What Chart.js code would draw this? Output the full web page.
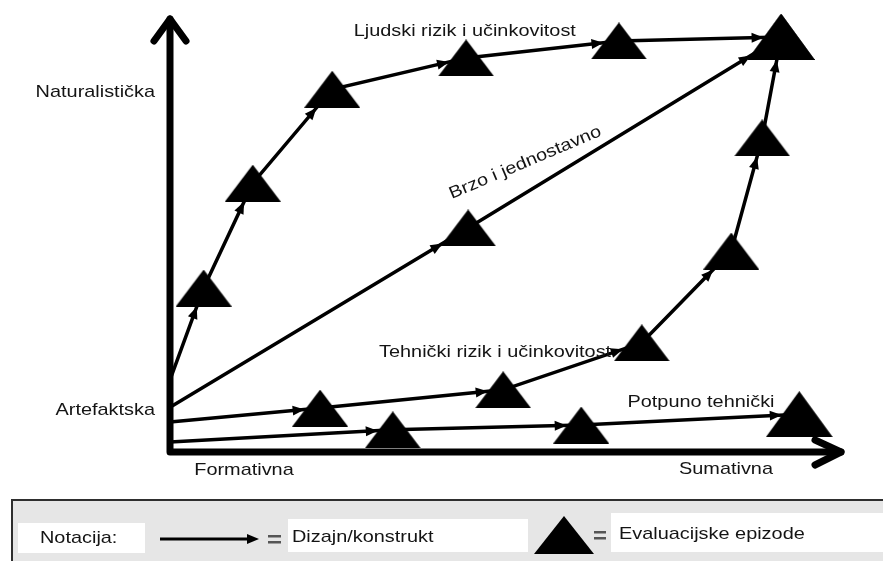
<!DOCTYPE html>
<html>
<head>
<meta charset="utf-8">
<script src="https://cdn.jsdelivr.net/npm/chart.js@4.4.1/dist/chart.umd.min.js"></script>
<style>
  html, body { margin: 0; padding: 0; background: #fff; }
  canvas { display: block; }
</style>
</head>
<body>
<canvas id="evalChart" width="883" height="561"></canvas>
<script>
// Paths: first node sits on the vertical axis, the rest are evaluation episodes
// x: 0 = Formativna .. 100 = Sumativna, y: 0 = Artefaktska .. 100 = Naturalistička
const ljudskiX = [0, 5.0, 12.3, 24.1, 44.0, 66.7, 90.8];
const ljudskiY = [16.6, 37.7, 61.8, 83.4, 90.6, 94.5, 95.4];
const brzoX = [0, 44.3, 90.8];
const brzoY = [10.3, 51.5, 95.4];
const tehnickiX = [0, 22.3, 49.5, 70.1, 83.4, 88.0, 90.8];
const tehnickiY = [6.9, 10.1, 14.3, 25.1, 46.2, 72.2, 95.4];
const potpunoX = [0, 33.1, 61.1, 93.5];
const potpunoY = [2.3, 5.1, 6.2, 8.7];

const pathLabels = ['Ljudski rizik i učinkovitost', 'Brzo i jednostavno', 'Tehnički rizik i učinkovitost', 'Potpuno tehnički'];
const yAxisLabels = ['Artefaktska', 'Naturalistička'];
const xAxisLabels = ['Formativna', 'Sumativna'];
const legendLabels = ['Notacija:', 'Dizajn/konstrukt', 'Evaluacijske epizode'];

const FONT = '17px "Liberation Sans", Arial, sans-serif';
const STRETCH = 1.17;
const SMALL = { w: 56, h: 37 };
const BIG = { w: 67, h: 46 };

function makeTriangle(w, h) {
    const c = document.createElement('canvas');
    c.width = w; c.height = h;
    const g = c.getContext('2d');
    g.fillStyle = '#000';
    g.beginPath();
    g.moveTo(w / 2, 0);
    g.lineTo(w, h);
    g.lineTo(0, h);
    g.closePath();
    g.fill();
    return c;
}
const triSmall = makeTriangle(SMALL.w, SMALL.h);
const triBig = makeTriangle(BIG.w, BIG.h);

function toPoints(xs, ys) {
    return xs.map((x, i) => ({ x: x, y: ys[i] }));
}

const paths = [
    toPoints(ljudskiX, ljudskiY),
    toPoints(brzoX, brzoY),
    toPoints(tehnickiX, tehnickiY),
    toPoints(potpunoX, potpunoY)
];

const datasets = [];
paths.forEach((pts, k) => {
    // the line
    datasets.push({
        label: pathLabels[k],
        data: pts,
        showLine: true,
        borderColor: '#000',
        borderWidth: 3.5,
        pointRadius: 0,
        clip: false,
        order: 2,
        isPath: true
    });
    // the episodes on it
    const eps = pts.slice(1);
    datasets.push({
        label: pathLabels[k] + ' epizode',
        data: eps,
        pointStyle: eps.map((_, i) => i === eps.length - 1 ? triBig : triSmall),
        pointRadius: 10,
        clip: false,
        order: 0
    });
});

function drawText(ctx, str, x, y, align, angle) {
    ctx.save();
    ctx.translate(x, y);
    ctx.rotate(angle || 0);
    ctx.scale(STRETCH, 1);
    ctx.font = FONT;
    ctx.fillStyle = '#141414';
    ctx.textAlign = align;
    ctx.textBaseline = 'middle';
    ctx.fillText(str, 0, 0);
    ctx.restore();
}

function arrowHead(ctx, tx, ty, dx, dy, len, half) {
    const l = Math.hypot(dx, dy);
    const ux = dx / l, uy = dy / l;
    ctx.beginPath();
    ctx.moveTo(tx, ty);
    ctx.lineTo(tx - ux * len - uy * half, ty - uy * len + ux * half);
    ctx.lineTo(tx - ux * len + uy * half, ty - uy * len - ux * half);
    ctx.closePath();
    ctx.fill();
}

function insideTri(px, py, cx, cy, w, h) {
    const top = cy - h / 2, bottom = cy + h / 2;
    if (py < top || py > bottom) return false;
    return Math.abs(px - cx) <= (w / 2) * (py - top) / h;
}

const diagramPlugin = {
    id: 'diagram',
    beforeDatasetsDraw(chart) {
        const ctx = chart.ctx;
        const a = chart.chartArea;
        ctx.save();
        ctx.strokeStyle = '#000';
        ctx.lineWidth = 7;
        ctx.lineCap = 'round';
        ctx.lineJoin = 'round';
        // axes
        ctx.beginPath();
        ctx.moveTo(a.left, a.top + 2);
        ctx.lineTo(a.left, a.bottom);
        ctx.lineTo(a.right - 2, a.bottom);
        ctx.stroke();
        // chevrons
        ctx.beginPath();
        ctx.moveTo(a.left - 16, a.top + 24);
        ctx.lineTo(a.left, a.top + 2);
        ctx.lineTo(a.left + 16, a.top + 24);
        ctx.moveTo(a.right - 28, a.bottom - 12);
        ctx.lineTo(a.right - 2, a.bottom);
        ctx.lineTo(a.right - 28, a.bottom + 13);
        ctx.stroke();
        ctx.restore();
    },
    afterDatasetsDraw(chart) {
        const ctx = chart.ctx;
        const a = chart.chartArea;
        const xs = chart.scales.x, ys = chart.scales.y;
        ctx.save();
        ctx.fillStyle = '#000';
        chart.data.datasets.forEach((ds, di) => {
            if (!ds.isPath) return;
            const pts = chart.getDatasetMeta(di).data;
            for (let i = 1; i < pts.length; i++) {
                const p0 = pts[i - 1], p1 = pts[i];
                const sz = i === pts.length - 1 ? BIG : SMALL;
                const dx = p1.x - p0.x, dy = p1.y - p0.y;
                const len = Math.hypot(dx, dy);
                let t = 1;
                while (t > 0 && insideTri(p0.x + dx * t, p0.y + dy * t, p1.x, p1.y, sz.w, sz.h)) {
                    t -= 0.5 / len;
                }
                arrowHead(ctx, p0.x + dx * t, p0.y + dy * t, dx, dy, 12, 5);
            }
        });
        ctx.restore();

        // path labels
        drawText(ctx, pathLabels[0], xs.getPixelForValue(43.8), ys.getPixelForValue(96.8), 'center');
        drawText(ctx, pathLabels[1], xs.getPixelForValue(52.8), ys.getPixelForValue(66.5), 'center', -23 * Math.PI / 180);
        drawText(ctx, pathLabels[2], xs.getPixelForValue(48.3), ys.getPixelForValue(23.0), 'center');
        drawText(ctx, pathLabels[3], xs.getPixelForValue(78.9), ys.getPixelForValue(11.5), 'center');

        // axis labels
        drawText(ctx, yAxisLabels[1], a.left - 15, 92, 'right');
        drawText(ctx, yAxisLabels[0], a.left - 15, 410, 'right');
        drawText(ctx, xAxisLabels[0], 244, a.bottom + 18, 'center');
        drawText(ctx, xAxisLabels[1], 726, a.bottom + 17, 'center');
    },
    afterDraw(chart) {
        const ctx = chart.ctx;
        ctx.save();
        // legend panel
        ctx.fillStyle = '#e6e6e6';
        ctx.fillRect(12, 500, 871, 61);
        ctx.strokeStyle = '#2e2e2e';
        ctx.lineWidth = 2;
        ctx.beginPath();
        ctx.moveTo(12, 561);
        ctx.lineTo(12, 500);
        ctx.lineTo(883, 500);
        ctx.stroke();
        ctx.fillStyle = '#fff';
        ctx.fillRect(18, 523, 127, 30);
        ctx.fillRect(288, 519, 240, 33);
        ctx.fillRect(611, 513, 272, 39);
        ctx.restore();

        drawText(ctx, legendLabels[0], 40, 538, 'left');
        drawText(ctx, legendLabels[1], 292, 537, 'left');
        drawText(ctx, legendLabels[2], 619, 534, 'left');

        ctx.save();
        ctx.strokeStyle = '#000';
        ctx.fillStyle = '#000';
        ctx.lineWidth = 3;
        ctx.beginPath();
        ctx.moveTo(160, 539);
        ctx.lineTo(250, 539);
        ctx.stroke();
        arrowHead(ctx, 259, 539, 1, 0, 12, 5);
        ctx.drawImage(makeTriangle(60, 38), 534, 516);
        ctx.fillStyle = '#555';
        ctx.fillRect(268, 535, 13, 2.5);
        ctx.fillRect(268, 541, 13, 2.5);
        ctx.fillRect(594, 531, 12, 2.5);
        ctx.fillRect(594, 537, 12, 2.5);
        ctx.restore();
    }
};

const ctx = document.getElementById('evalChart').getContext('2d');
new Chart(ctx, {
    type: 'scatter',
    data: { datasets: datasets },
    options: {
        responsive: false,
        animation: false,
        devicePixelRatio: 1,
        layout: { padding: { left: 170, right: 40, top: 17, bottom: 109 } },
        scales: {
            x: { type: 'linear', min: 0, max: 100, display: false },
            y: { type: 'linear', min: 0, max: 100, display: false }
        },
        plugins: {
            legend: { display: false },
            tooltip: { enabled: false }
        },
        events: []
    },
    plugins: [diagramPlugin]
});
</script>
</body>
</html>
